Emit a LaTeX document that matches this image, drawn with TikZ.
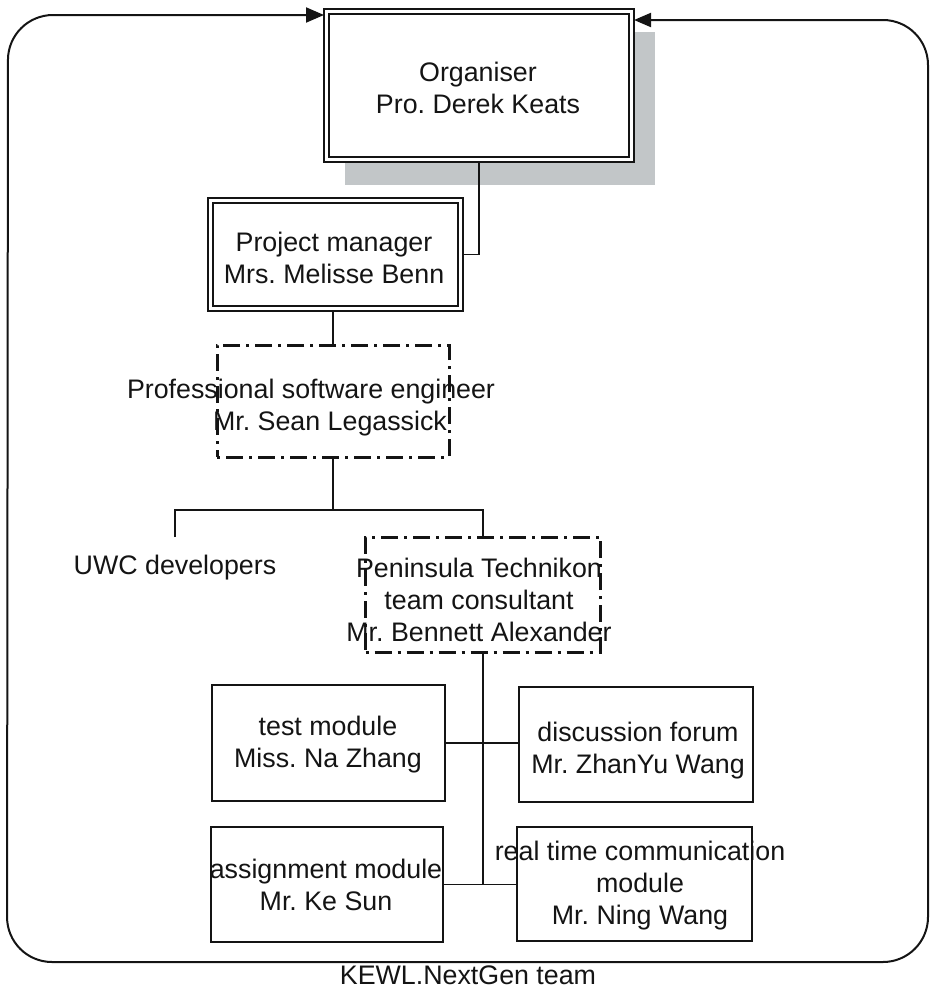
\documentclass[tikz,border=0pt]{standalone}
\usepackage{fontspec}
\setmainfont{Liberation Sans}
\usetikzlibrary{arrows.meta,shadows}
\definecolor{ink}{RGB}{20,20,20}
\definecolor{shadowgrey}{RGB}{194,198,200}
\frenchspacing
\begin{document}
\begin{tikzpicture}[x=1pt,y=-1pt,
  every node/.style={inner sep=0pt, outer sep=0pt, text=ink},
  lbl/.style={align=center, font=\fontsize{26.8}{32}\selectfont},
  twinbox/.style 2 args={draw=ink, line width=1.6pt, fill=white,
    minimum width=#1, minimum height=#2},
  twininner/.style={draw=ink, line width=2.6pt},
  plainbox/.style 2 args={draw=ink, line width=2pt,
    minimum width=#1, minimum height=#2},
  dashbox/.style 2 args={draw=ink, line width=3pt, line cap=butt,
    dash pattern=on 3pt off 6pt on 17pt off 6pt,
    minimum width=#1, minimum height=#2},
  link/.style={draw=ink, line width=1.8pt},
  frame/.style={draw=ink, line width=2pt}
]
\useasboundingbox (0,0) rectangle (931,988);

% Organiser box with its drop shadow and double outline
\node[twinbox={310}{153},
      drop shadow={shadow xshift=21pt, shadow yshift=-23pt,
                   fill=shadowgrey, opacity=1}] (org) at (479,85.5) {};
\draw[twininner] ([shift={(5,5)}]org.north west) rectangle ([shift={(-5,-5)}]org.south east);
\node[lbl] (orgText) at (478,88) {Organiser\\Pro. Derek Keats};

% Project manager
\node[twinbox={255}{113}] (pm) at (335.5,254.5) {};
\draw[twininner] ([shift={(5,5)}]pm.north west) rectangle ([shift={(-5,-5)}]pm.south east);
\node[lbl] (pmText) at (334,258) {Project manager\\Mrs. Melisse Benn};

% Professional software engineer
\node[dashbox={232}{112}] (pse) at (333,401) {};
\node[lbl] (pseTextA) at (311,392) {Professional software engineer};
\node[lbl] (pseTextB) at (330,424) {Mr. Sean Legassick};

% Second level
\node[lbl, minimum height=62] (uwc) at (175,568) {UWC developers};
\node[dashbox={235}{115}] (cons) at (483,594.5) {};
\node[lbl] (consText) at (479,600) {Peninsula Technikon\\team consultant\\Mr. Bennett Alexander};

% Module teams
\node[plainbox={233}{116}] (test) at (328.5,743) {};
\node[lbl] (testText) at (328,745) {test module\\Miss. Na Zhang};
\node[plainbox={234}{115}] (disc) at (636,744.5) {};
\node[lbl] (discText) at (638,751) {discussion forum\\Mr. ZhanYu Wang};
\node[plainbox={232}{115}] (assign) at (327,884.5) {};
\node[lbl] (assignText) at (326,885) {assignment module\\Mr. Ke Sun};
\node[plainbox={235}{114}] (real) at (634.5,884) {};
\node[lbl] (realText) at (640,886) {real time communication\\module\\Mr. Ning Wang};

% Team caption
\node[lbl] (team) at (468,975) {KEWL.NextGen team};

% Connectors
\draw[link] (org.south) |- (pm.east);
\draw[link] (pse.north |- pm.south) -- (pse.north);
\coordinate (fork) at (333,510);
\draw[link] (pse.south) -- (fork);
\draw[link] (uwc.north) |- (fork) -| (cons.north);
\draw[link] (cons.south) -- (cons.south |- assign.east);
\draw[link] (test.east) -- (test.east -| disc.west);
\draw[link] (assign.east) -- (assign.east -| real.west);

% Surrounding team frame, feeding back into the organiser
\coordinate (inL) at ([yshift=-6pt]org.north west);
\coordinate (inR) at ([yshift=-11pt]org.north east);
\draw[frame, {Triangle[length=18pt,width=15pt]}-{Triangle[length=17pt,width=14pt]},
      rounded corners=45pt]
  (inL) -- (8,15) -- (7,962) -- (928,962) -- (928,20) -- (inR);
\end{tikzpicture}
\end{document}
